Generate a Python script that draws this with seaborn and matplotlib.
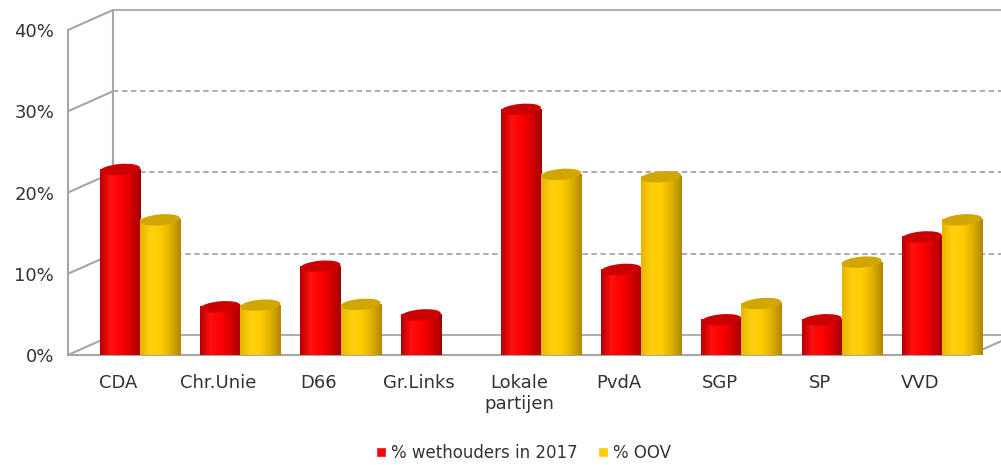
import numpy as np
import pandas as pd
import seaborn as sns
import matplotlib.pyplot as plt
from matplotlib.patches import Ellipse, Rectangle
from matplotlib.colors import LinearSegmentedColormap
from matplotlib.transforms import ScaledTranslation

# data (percent)
parties = ["CDA", "Chr.Unie", "D66", "Gr.Links", "Lokale\npartijen", "PvdA", "SGP", "SP", "VVD"]
wethouders = [21.6, 4.7, 9.7, 3.7, 29.0, 9.3, 3.1, 3.1, 13.3]
oov = [15.4, 4.9, 5.0, 0, 21.0, 20.7, 5.1, 10.2, 15.4]
series = ["% wethouders in 2017", "% OOV"]
colors = ["#FF0000", "#FFCC00"]
yticks = [0, 10, 20, 30, 40]

df = pd.DataFrame({
    "partij": parties * 2,
    "waarde": wethouders + oov,
    "reeks": [series[0]] * len(parties) + [series[1]] * len(parties),
})

sns.set_style("white")
plt.rcParams["font.family"] = ["DejaVu Sans"]

W, H = 1001, 465
fig = plt.figure(figsize=(W / 100, H / 100), dpi=100)
ax_l, ax_b, ax_h = 68, 355, 325
plot_w = 902               # width of the floor (front edge)
ax = fig.add_axes([ax_l / W, 1 - ax_b / H, (W - ax_l) / W, ax_h / H])

sns.barplot(data=df, x="partij", y="waarde", hue="reeks", palette=dict(zip(series, colors)),
            width=0.8, saturation=1, legend=False, ax=ax)

n = len(parties)
ymax = yticks[-1]
px_x = plot_w / n          # pixels per category
px_y = ax_h / ymax         # pixels per percent
wall_dx, wall_dy = 45 / px_x, 20 / px_y
bar_dx, bar_dy = 22 / px_x, 10 / px_y
cap_px = 11

grad = np.linspace(0, 1, 64).reshape(1, -1)
cmaps = {
    colors[0]: LinearSegmentedColormap.from_list("r", ["#B80000", "#FF1010", "#FF0000", "#D80000", "#A00000"]),
    colors[1]: LinearSegmentedColormap.from_list("y", ["#E6B400", "#FFD010", "#FFCC00", "#E0B000", "#B08800"]),
}
caps = {colors[0]: "#CC0000", colors[1]: "#D2A600"}


def cap(xc, yc, w, **kw):
    tr = fig.dpi_scale_trans + ScaledTranslation(xc, yc, ax.transData)
    return Ellipse((0, 0), w * px_x / 100, cap_px / 100, angle=5, transform=tr, **kw)


bars = list(ax.patches)
for i, p in enumerate(bars):
    col = colors[0] if i < n else colors[1]
    h = p.get_height()
    if h <= 0:
        p.remove()
        continue
    x0, w = p.get_x() + bar_dx, p.get_width()
    p.set_x(x0)
    p.set_y(bar_dy)
    p.set_facecolor("none")
    p.set_edgecolor("none")
    bottom = cap(x0 + w / 2, bar_dy, w, facecolor="none", edgecolor="none")
    ax.add_patch(bottom)
    for clip in (p, bottom):
        ax.imshow(grad, extent=[x0, x0 + w, bar_dy - 1.5 * cap_px / px_y, bar_dy + h],
                  cmap=cmaps[col], aspect="auto", clip_path=clip, zorder=3,
                  interpolation="bilinear")
    ax.add_patch(cap(x0 + w / 2, bar_dy + h, w, facecolor=caps[col], edgecolor="none", zorder=4))

# walls and floor
gc = "#A6A6A6"
x_left, x_right = -0.5, n - 0.5
ax.plot([x_left + wall_dx] * 2, [wall_dy, ymax + wall_dy], color=gc, lw=1.5, clip_on=False, zorder=1)
for t in yticks:
    ax.plot([x_left, x_left + wall_dx], [t, t + wall_dy], color=gc, lw=1.5, clip_on=False, zorder=1)
    ls = "-" if t in (0, ymax) else (0, (3, 2))
    ax.plot([x_left + wall_dx, x_right + wall_dx + 1], [t + wall_dy] * 2, color=gc, lw=1.3,
            ls=ls, clip_on=False, zorder=1)
ax.plot([x_left, x_right], [0, 0], color=gc, lw=1.5, clip_on=False, zorder=1)
ax.plot([x_right, x_right + wall_dx], [0, wall_dy], color=gc, lw=1.5, clip_on=False, zorder=1)

ax.set_xlim(x_left, x_left + (W - ax_l) / px_x)
ax.set_ylim(0, ymax)
ax.set_yticks(yticks)
ax.set_yticklabels([f"{t}%" for t in yticks], fontsize=13, color="#333333")
ax.set_xticks(range(n))
ax.set_xticklabels(parties, fontsize=13, color="#333333", linespacing=1.2, va="top")
ax.tick_params(axis="y", length=0, pad=10)
ax.tick_params(axis="x", length=0, pad=14)
ax.set_xlabel("")
ax.set_ylabel("")
for s in ("top", "right", "bottom"):
    ax.spines[s].set_visible(False)
ax.spines["left"].set_color(gc)
ax.spines["left"].set_linewidth(1.5)
ax.set_facecolor("none")

handles = [Rectangle((0, 0), 1, 1, facecolor=c) for c in colors]
fig.legend(handles, series, loc="center", bbox_to_anchor=(0.523, 1 - 453 / H), ncol=2,
           frameon=False, fontsize=12, handlelength=0.6, handleheight=0.6,
           handletextpad=0.3, columnspacing=1.2, labelcolor="#333333")

fig.savefig("out.png", dpi=100)
